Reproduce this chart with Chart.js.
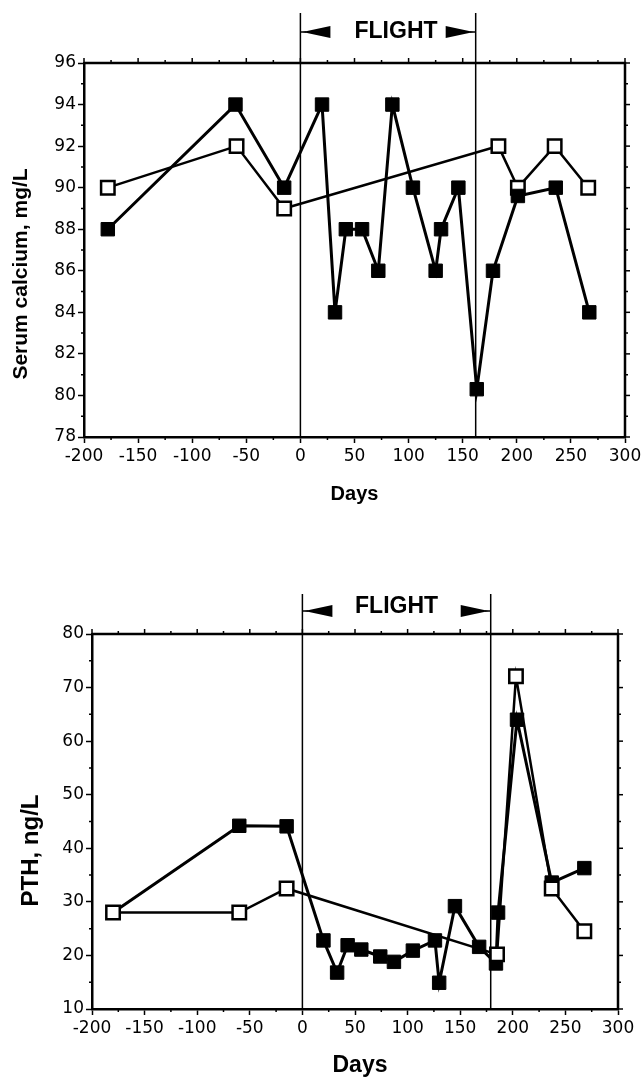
<!DOCTYPE html>
<html>
<head>
<meta charset="utf-8">
<script src="https://cdn.jsdelivr.net/npm/chart.js@4.4.1/dist/chart.umd.min.js"></script>
<style>
  html, body { margin: 0; padding: 0; background: #fff; }
  canvas { position: absolute; left: 0; }
  #calcium { top: 0; }
  #pth { top: 540px; }
</style>
</head>
<body>
<canvas id="calcium" width="643" height="520"></canvas>
<canvas id="pth" width="643" height="539"></canvas>
<script>
// serum calcium (top panel)
const calDaysFilled = [-178, -60, -15, 20, 32, 42, 57, 72, 85, 104, 125, 130, 146, 163, 178, 201, 236, 267];
const calFilled     = [88, 94, 90, 94, 84, 88, 88, 86, 94, 90, 86, 88, 90, 80.3, 86, 89.6, 90, 84];
const calDaysOpen   = [-178, -59, -15, 183, 201, 235, 266];
const calOpen       = [90, 92, 89, 92, 90, 92, 90];
const calTicks      = [78, 80, 82, 84, 86, 88, 90, 92, 94, 96];
const calFlight     = [0, 162];

// PTH (bottom panel)
const pthDaysFilled = [-180, -60, -15, 20, 33, 43, 56, 74, 87, 105, 126, 130, 145, 168, 184, 186, 204, 237, 268];
const pthFilled     = [28, 44.2, 44.1, 22.8, 16.8, 21.9, 21.1, 19.8, 18.8, 20.9, 22.8, 14.9, 29.2, 21.6, 18.5, 28, 64, 33.6, 36.3];
const pthDaysOpen   = [-180, -60, -15, 185, 203, 237, 268];
const pthOpen       = [28, 28, 32.5, 20.2, 72.1, 32.5, 24.5];
const pthTicks      = [10, 20, 30, 40, 50, 60, 70, 80];
const pthFlight     = [0, 179];

const dayTicks = [-200, -150, -100, -50, 0, 50, 100, 150, 200, 250, 300];

const TICK_FONT = { family: "'DejaVu Sans', sans-serif", size: 17 };
const BOLD = "'Liberation Sans', Arial, sans-serif";

function points(xs, ys) {
  return xs.map((x, i) => ({ x: x, y: ys[i] }));
}

// frame, minor ticks, axis titles and the FLIGHT marker
const decor = {
  id: 'decor',
  afterDraw(chart, args, o) {
    const { ctx, chartArea: a, scales: { x, y } } = chart;
    ctx.save();
    ctx.strokeStyle = '#000';
    ctx.fillStyle = '#000';

    ctx.lineWidth = 2.5;
    ctx.beginPath();
    ctx.moveTo(a.left, a.top);
    ctx.lineTo(a.right, a.top);
    ctx.lineTo(a.right, a.bottom);
    ctx.stroke();

    ctx.lineWidth = 1.5;
    for (let v = x.min; v <= x.max; v += o.xMinor) {
      const px = x.getPixelForValue(v);
      const major = v % o.xMajor === 0;
      ctx.beginPath();
      ctx.moveTo(px, a.top);
      ctx.lineTo(px, a.top - (major ? 5 : 3));
      if (!major) {
        ctx.moveTo(px, a.bottom);
        ctx.lineTo(px, a.bottom + 3);
      }
      ctx.stroke();
    }
    for (let v = y.min; v <= y.max; v += o.yMinor) {
      const py = y.getPixelForValue(v);
      const major = (v - y.min) % o.yMajor === 0;
      ctx.beginPath();
      ctx.moveTo(a.right, py);
      ctx.lineTo(a.right + (major ? 5 : 3), py);
      if (!major) {
        ctx.moveTo(a.left, py);
        ctx.lineTo(a.left - 3, py);
      }
      ctx.stroke();
    }

    // flight period
    const x0 = x.getPixelForValue(o.flight[0]);
    const x1 = x.getPixelForValue(o.flight[1]);
    ctx.lineWidth = 1.5;
    ctx.beginPath();
    ctx.moveTo(x0, a.bottom); ctx.lineTo(x0, a.top - o.lineUp);
    ctx.moveTo(x1, a.bottom); ctx.lineTo(x1, a.top - o.lineUp);
    ctx.moveTo(x0, a.top - o.arrowUp); ctx.lineTo(x0 + 6, a.top - o.arrowUp);
    ctx.moveTo(x1, a.top - o.arrowUp); ctx.lineTo(x1 - 6, a.top - o.arrowUp);
    ctx.stroke();
    const ay = a.top - o.arrowUp;
    ctx.beginPath();
    ctx.moveTo(x0 + 2, ay); ctx.lineTo(x0 + 30, ay - 6); ctx.lineTo(x0 + 30, ay + 6); ctx.closePath();
    ctx.moveTo(x1 - 2, ay); ctx.lineTo(x1 - 30, ay - 6); ctx.lineTo(x1 - 30, ay + 6); ctx.closePath();
    ctx.fill();
    ctx.font = 'bold ' + o.flightSize + 'px ' + BOLD;
    ctx.textAlign = 'center';
    ctx.textBaseline = 'alphabetic';
    ctx.fillText('FLIGHT', (x0 + x1) / 2 + o.flightShift, a.top - o.textUp);

    // axis titles
    ctx.font = 'bold ' + o.titleSize + 'px ' + BOLD;
    ctx.textBaseline = 'middle';
    ctx.fillText('Days', (a.left + a.right) / 2 + o.daysShift, a.bottom + 57);
    ctx.translate(o.yTitleX, (a.top + a.bottom) / 2 + o.yTitleShift);
    ctx.rotate(-Math.PI / 2);
    ctx.font = 'bold ' + o.yTitleSize + 'px ' + BOLD;
    ctx.fillText(o.yTitle, 0, 0);
    ctx.restore();
  }
};

function makeChart(id, cfg) {
  const filled = {
    data: points(cfg.daysFilled, cfg.filled),
    borderColor: '#000', borderWidth: 3,
    pointStyle: 'rect', pointRadius: 9.5,
    pointBackgroundColor: '#000', pointBorderColor: '#000', pointBorderWidth: 1,
    order: cfg.filledOnTop ? 0 : 1
  };
  const open = {
    data: points(cfg.daysOpen, cfg.open),
    borderColor: '#000', borderWidth: 2.5,
    pointStyle: 'rect', pointRadius: 9.5,
    pointBackgroundColor: '#fff', pointBorderColor: '#000', pointBorderWidth: 2.5,
    order: cfg.filledOnTop ? 1 : 0
  };
  return new Chart(document.getElementById(id), {
    type: 'line',
    data: { datasets: [filled, open] },
    plugins: [decor],
    options: {
      responsive: false,
      animation: false,
      layout: { padding: cfg.padding },
      elements: { line: { tension: 0 } },
      plugins: {
        legend: { display: false },
        tooltip: { enabled: false },
        decor: cfg.decor
      },
      scales: {
        x: {
          type: 'linear', min: -200, max: 300,
          afterBuildTicks: (s) => { s.ticks = dayTicks.map(v => ({ value: v })); },
          afterFit: (s) => { s.height = cfg.xHeight; s.paddingLeft = 0; s.paddingRight = 0; },
          ticks: { color: '#000', font: TICK_FONT, padding: 3, maxRotation: 0, autoSkip: false },
          grid: { drawOnChartArea: false, tickLength: 6, tickWidth: 1.5, tickColor: '#000' },
          border: { display: true, width: 2.5, color: '#000' }
        },
        y: {
          min: cfg.yTicks[0], max: cfg.yTicks[cfg.yTicks.length - 1],
          afterBuildTicks: (s) => { s.ticks = cfg.yTicks.map(v => ({ value: v })); },
          afterFit: (s) => { s.width = cfg.yWidth; s.paddingTop = 0; s.paddingBottom = 0; },
          ticks: { color: '#000', font: TICK_FONT, padding: 2, autoSkip: false },
          grid: { drawOnChartArea: false, tickLength: 6, tickWidth: 1.5, tickColor: '#000' },
          border: { display: true, width: 2.5, color: '#000' }
        }
      }
    }
  });
}

makeChart('calcium', {
  daysFilled: calDaysFilled, filled: calFilled,
  daysOpen: calDaysOpen, open: calOpen,
  yTicks: calTicks, filledOnTop: true,
  padding: { top: 63, right: 18, left: 0, bottom: 0 },
  yWidth: 84, xHeight: 83,
  decor: {
    xMinor: 25, xMajor: 50, yMinor: 1, yMajor: 2,
    flight: calFlight, lineUp: 50, arrowUp: 31, textUp: 25, flightShift: 8, flightSize: 23,
    titleSize: 20, daysShift: 0,
    yTitle: 'Serum calcium, mg/L', yTitleX: 21, yTitleShift: 24, yTitleSize: 21
  }
});

makeChart('pth', {
  daysFilled: pthDaysFilled, filled: pthFilled,
  daysOpen: pthDaysOpen, open: pthOpen,
  yTicks: pthTicks, filledOnTop: false,
  padding: { top: 94, right: 25, left: 0, bottom: 0 },
  yWidth: 92, xHeight: 70,
  decor: {
    xMinor: 25, xMajor: 50, yMinor: 5, yMajor: 10,
    flight: pthFlight, lineUp: 40, arrowUp: 23, textUp: 21, flightShift: 0, flightSize: 23,
    titleSize: 23, daysShift: 5,
    yTitle: 'PTH, ng/L', yTitleX: 31, yTitleShift: 29, yTitleSize: 24
  }
});
</script>
</body>
</html>
